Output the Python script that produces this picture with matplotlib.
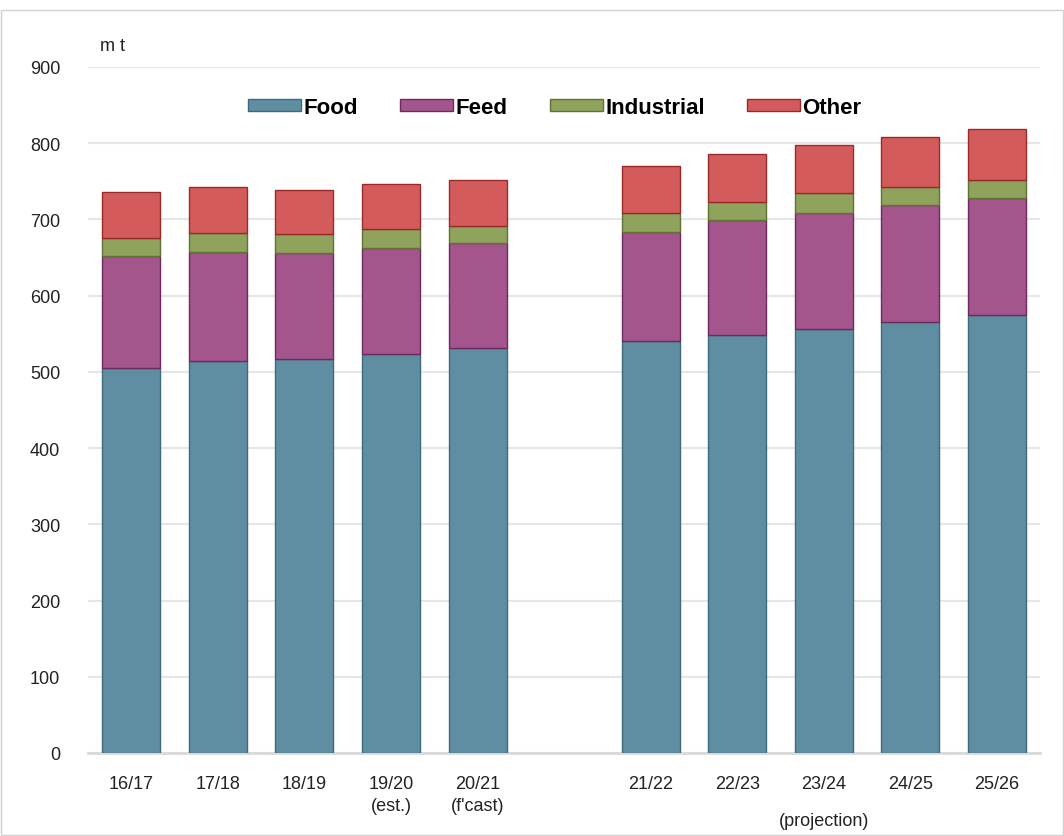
import matplotlib
matplotlib.use("Agg")
import matplotlib.pyplot as plt
from matplotlib.patches import Rectangle

plt.rcParams['font.family'] = ['Liberation Sans', 'DejaVu Sans']

categories = ["16/17", "17/18", "18/19", "19/20\n(est.)", "20/21\n(f'cast)",
              "21/22", "22/23", "23/24", "24/25", "25/26"]
positions = [0, 1, 2, 3, 4, 6, 7, 8, 9, 10]
food = [505, 514, 517, 523, 531, 540, 548, 556, 566, 574]
feed = [147, 143, 139, 139, 138, 143, 151, 153, 153, 154]
industrial = [23, 25, 25, 25, 23, 25, 24, 25, 24, 24]
other = [61, 60, 58, 60, 60, 62, 63, 64, 65, 67]

series = [("Food", food, "#5f8ea3", "#3e6a7e"),
          ("Feed", feed, "#a3558c", "#6e2a5c"),
          ("Industrial", industrial, "#8fa35c", "#5f7336"),
          ("Other", other, "#d45b5b", "#9a2a2a")]

fig = plt.figure(figsize=(10.64, 8.37), dpi=100)
ax = fig.add_axes([0.0827, 0.0992, 0.895, 0.8196])

bottom = [0] * len(positions)
handles = []
for name, vals, color, edge in series:
    b = ax.bar(positions, vals, width=0.67, bottom=bottom, color=color,
               edgecolor=edge, linewidth=1.0, label=name, zorder=3)
    handles.append(b)
    bottom = [bt + v for bt, v in zip(bottom, vals)]

ax.set_xlim(-0.5, 10.5)
ax.set_ylim(0, 900)
ax.set_yticks(range(0, 901, 100))
ax.yaxis.grid(True, color="#e6e6e6", linewidth=1.5, zorder=0)
ax.set_axisbelow(True)
for s in ["top", "right", "left"]:
    ax.spines[s].set_visible(False)
ax.spines["bottom"].set_color("#d9d9d9")
ax.spines["bottom"].set_linewidth(2)
ax.tick_params(axis="both", length=0, labelsize=13, colors="#222222")
ax.tick_params(axis="y", pad=20)
ax.set_xticks(positions)
ax.set_xticklabels(categories, linespacing=1.35)
ax.tick_params(axis="x", pad=16)

ax.text(positions[7], -88, "(projection)", ha="center", va="center",
        fontsize=13, color="#222222")

fig.text(0.094, 0.945, "m t", fontsize=13, color="#222222", ha="left", va="center")

leg = ax.legend(handles=handles, labels=[s[0] for s in series], loc="upper center",
                bbox_to_anchor=(0.49, 0.986), ncol=4, frameon=False,
                fontsize=16, handlelength=2.4, handleheight=0.45,
                handletextpad=0.1, columnspacing=1.9)
for t in leg.get_texts():
    t.set_fontweight("bold")

fig.patches.append(Rectangle((0.001, 0.001), 0.998, 0.986, transform=fig.transFigure,
                             fill=False, edgecolor="#d0d0d0", linewidth=1))

fig.savefig("out.png", dpi=100, facecolor="white")
